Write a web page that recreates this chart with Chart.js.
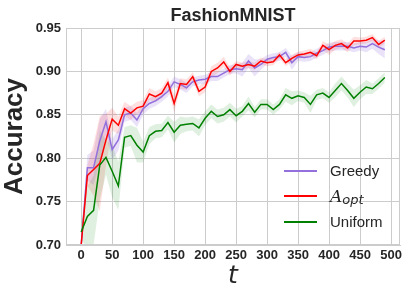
<!DOCTYPE html>
<html>
<head>
<meta charset="utf-8">
<script src="https://cdn.jsdelivr.net/npm/chart.js@4.4.1/dist/chart.umd.min.js"></script>
<style>
  html, body { margin: 0; padding: 0; background: #fff; }
</style>
</head>
<body>
<canvas id="accChart" width="409" height="297"></canvas>
<script>
// rounds t
const steps = [0, 10, 20, 30, 40, 50, 60, 70, 80, 90,
               100, 110, 120, 130, 140, 150, 160, 170, 180, 190,
               200, 210, 220, 230, 240, 250, 260, 270, 280, 290,
               300, 310, 320, 330, 340, 350, 360, 370, 380, 390,
               400, 410, 420, 430, 440, 450, 460, 470, 480, 490];

// mean accuracy per method
const greedyAcc = [0.700, 0.789, 0.789, 0.820, 0.842, 0.810, 0.821, 0.850, 0.852, 0.844,
                   0.857, 0.863, 0.866, 0.871, 0.877, 0.888, 0.885, 0.881, 0.888, 0.890,
                   0.891, 0.894, 0.894, 0.898, 0.902, 0.903, 0.902, 0.912, 0.904, 0.908,
                   0.914, 0.916, 0.917, 0.922, 0.910, 0.917, 0.916, 0.917, 0.921, 0.924,
                   0.928, 0.929, 0.929, 0.929, 0.927, 0.929, 0.928, 0.932, 0.928, 0.925];
const optAcc = [0.700, 0.780, 0.787, 0.794, 0.821, 0.845, 0.838, 0.857, 0.852, 0.858,
                0.860, 0.874, 0.871, 0.875, 0.887, 0.863, 0.886, 0.885, 0.894, 0.877,
                0.882, 0.900, 0.904, 0.911, 0.900, 0.908, 0.906, 0.908, 0.906, 0.912,
                0.910, 0.911, 0.919, 0.910, 0.915, 0.919, 0.920, 0.922, 0.918, 0.930,
                0.925, 0.930, 0.932, 0.927, 0.935, 0.935, 0.936, 0.939, 0.931, 0.936];
const uniformAcc = [0.715, 0.733, 0.740, 0.792, 0.801, 0.785, 0.768, 0.824, 0.826, 0.815,
                    0.807, 0.826, 0.831, 0.832, 0.841, 0.830, 0.838, 0.839, 0.840, 0.835,
                    0.846, 0.854, 0.848, 0.850, 0.856, 0.849, 0.854, 0.863, 0.853, 0.862,
                    0.862, 0.856, 0.862, 0.873, 0.869, 0.872, 0.870, 0.862, 0.873, 0.875,
                    0.870, 0.878, 0.886, 0.878, 0.869, 0.876, 0.882, 0.880, 0.886, 0.893];

// spread (half width of the shaded band)
const greedyStd = [0.005, 0.015, 0.020, 0.025, 0.015, 0.012, 0.012, 0.008, 0.008, 0.008,
                   0.007, 0.006, 0.006, 0.006, 0.006, 0.006, 0.006, 0.006, 0.005, 0.005,
                   0.005, 0.005, 0.005, 0.005, 0.005, 0.005, 0.008, 0.008, 0.010, 0.006,
                   0.005, 0.005, 0.005, 0.005, 0.008, 0.005, 0.005, 0.005, 0.005, 0.005,
                   0.005, 0.005, 0.005, 0.005, 0.005, 0.005, 0.006, 0.006, 0.008, 0.010];
const optStd = [0.003, 0.012, 0.030, 0.055, 0.030, 0.013, 0.010, 0.008, 0.008, 0.007,
                0.007, 0.007, 0.006, 0.006, 0.006, 0.010, 0.006, 0.006, 0.005, 0.006,
                0.006, 0.006, 0.006, 0.006, 0.005, 0.004, 0.004, 0.004, 0.004, 0.004,
                0.004, 0.004, 0.004, 0.004, 0.004, 0.004, 0.004, 0.004, 0.004, 0.005,
                0.006, 0.005, 0.005, 0.005, 0.005, 0.004, 0.004, 0.004, 0.004, 0.004];
const uniformStd = [0.010, 0.035, 0.040, 0.040, 0.020, 0.030, 0.028, 0.012, 0.012, 0.020,
                    0.012, 0.010, 0.008, 0.008, 0.008, 0.012, 0.010, 0.008, 0.008, 0.010,
                    0.008, 0.008, 0.008, 0.008, 0.008, 0.008, 0.006, 0.008, 0.006, 0.006,
                    0.006, 0.006, 0.006, 0.008, 0.008, 0.006, 0.006, 0.010, 0.006, 0.006,
                    0.006, 0.008, 0.008, 0.008, 0.010, 0.008, 0.008, 0.006, 0.006, 0.006];

const xTicks = [0, 50, 100, 150, 200, 250, 300, 350, 400, 450, 500];
const yTicks = [0.70, 0.75, 0.80, 0.85, 0.90, 0.95];

const chartTitle = 'FashionMNIST';
const INK = '#262626';
const GRID = '#cccccc';

// method -> colours (legend order)
const methods = [
    { name: 'Greedy', acc: greedyAcc, std: greedyStd, color: '#9370DB', band: 'rgba(147,112,219,0.2)' },
    { name: 'A', sub: 'opt', acc: optAcc, std: optStd, color: '#FF0000', band: 'rgba(255,0,0,0.12)' },
    { name: 'Uniform', acc: uniformAcc, std: uniformStd, color: '#008000', band: 'rgba(0,128,0,0.12)' }
];

function pts(vals) {
    return steps.map((t, i) => ({ x: t, y: vals[i] }));
}

// lines first (first dataset is drawn on top), bands afterwards
const datasets = [];
[...methods].reverse().forEach(m => {
    datasets.push({
        label: m.name,
        data: pts(m.acc),
        borderColor: m.color,
        borderWidth: 1.5,
        pointRadius: 0,
        tension: 0,
        fill: false
    });
});
[...methods].reverse().forEach(m => {
    const upperIdx = datasets.length;
    datasets.push({
        label: m.name + ' upper',
        data: pts(m.acc.map((v, i) => v + m.std[i])),
        borderWidth: 0,
        borderColor: 'transparent',
        pointRadius: 0,
        fill: false
    });
    datasets.push({
        label: m.name + ' lower',
        data: pts(m.acc.map((v, i) => v - m.std[i])),
        borderWidth: 0,
        borderColor: 'transparent',
        backgroundColor: m.band,
        pointRadius: 0,
        fill: upperIdx
    });
});

// frame, title and the legend inside the plot
const decorations = {
    id: 'decorations',
    afterDraw(chart) {
        const { ctx, chartArea: a } = chart;
        ctx.save();
        ctx.strokeStyle = GRID;
        ctx.lineWidth = 1;
        ctx.strokeRect(Math.round(a.left) + 0.5, Math.round(a.top) + 0.5,
                       Math.round(a.right - a.left) - 1, Math.round(a.bottom - a.top) - 1);

        ctx.fillStyle = INK;
        ctx.font = 'bold 18px "Liberation Sans", Arial, sans-serif';
        ctx.textAlign = 'center';
        ctx.textBaseline = 'alphabetic';
        ctx.fillText(chartTitle, (a.left + a.right) / 2, 21);

        const rowY = [171, 196, 222];
        methods.forEach((m, i) => {
            const y = rowY[i];
            ctx.strokeStyle = m.color;
            ctx.lineWidth = 2;
            ctx.beginPath();
            ctx.moveTo(284, y);
            ctx.lineTo(317, y);
            ctx.stroke();

            ctx.fillStyle = INK;
            ctx.textAlign = 'left';
            if (m.sub) {
                ctx.textBaseline = 'alphabetic';
                ctx.font = 'italic 17px "DejaVu Serif", serif';
                ctx.fillText(m.name, 330, y + 6);
                const w = ctx.measureText(m.name).width;
                ctx.font = 'italic 13px "DejaVu Sans", sans-serif';
                ctx.fillText(m.sub, 330 + w, y + 8);
            } else {
                ctx.textBaseline = 'middle';
                ctx.font = '15px "Liberation Sans", Arial, sans-serif';
                ctx.fillText(m.name, 330, y + 1);
            }
        });
        ctx.restore();
    }
};

const tickFont = { family: '"Liberation Sans", Arial, sans-serif', size: 13, weight: 'bold' };

new Chart(document.getElementById('accChart').getContext('2d'), {
    type: 'line',
    data: { datasets },
    options: {
        responsive: false,
        animation: false,
        devicePixelRatio: 1,
        layout: { padding: { top: 28, right: 9, left: 0, bottom: 0 } },
        plugins: {
            legend: { display: false },
            title: { display: false },
            tooltip: { enabled: false }
        },
        scales: {
            x: {
                type: 'linear',
                min: -24.5,
                max: 514.5,
                afterBuildTicks: s => { s.ticks = xTicks.map(v => ({ value: v })); },
                afterFit: s => { s.height = 52; },
                grid: { color: GRID, lineWidth: 1, drawTicks: false },
                border: { color: GRID },
                ticks: { color: INK, font: tickFont, padding: 3, maxRotation: 0, autoSkip: false,
                         callback: v => String(v) },
                title: {
                    display: true, text: 't', color: INK,
                    font: { family: '"DejaVu Sans", sans-serif', style: 'italic', size: 25, lineHeight: 1 },
                    padding: { top: 0, bottom: 8 }
                }
            },
            y: {
                min: 0.70,
                max: 0.95,
                afterBuildTicks: s => { s.ticks = yTicks.map(v => ({ value: v })); },
                afterFit: s => { s.width = 66; },
                grid: { color: GRID, lineWidth: 1, drawTicks: false },
                border: { color: GRID },
                ticks: { color: INK, font: tickFont, padding: 5, callback: v => v.toFixed(2) },
                title: {
                    display: true, text: 'Accuracy', color: INK,
                    font: { family: '"Liberation Sans", Arial, sans-serif', weight: 'bold', size: 26, lineHeight: 1 },
                    padding: { top: 2, bottom: 0 }
                }
            }
        }
    },
    plugins: [decorations]
});
</script>
</body>
</html>
